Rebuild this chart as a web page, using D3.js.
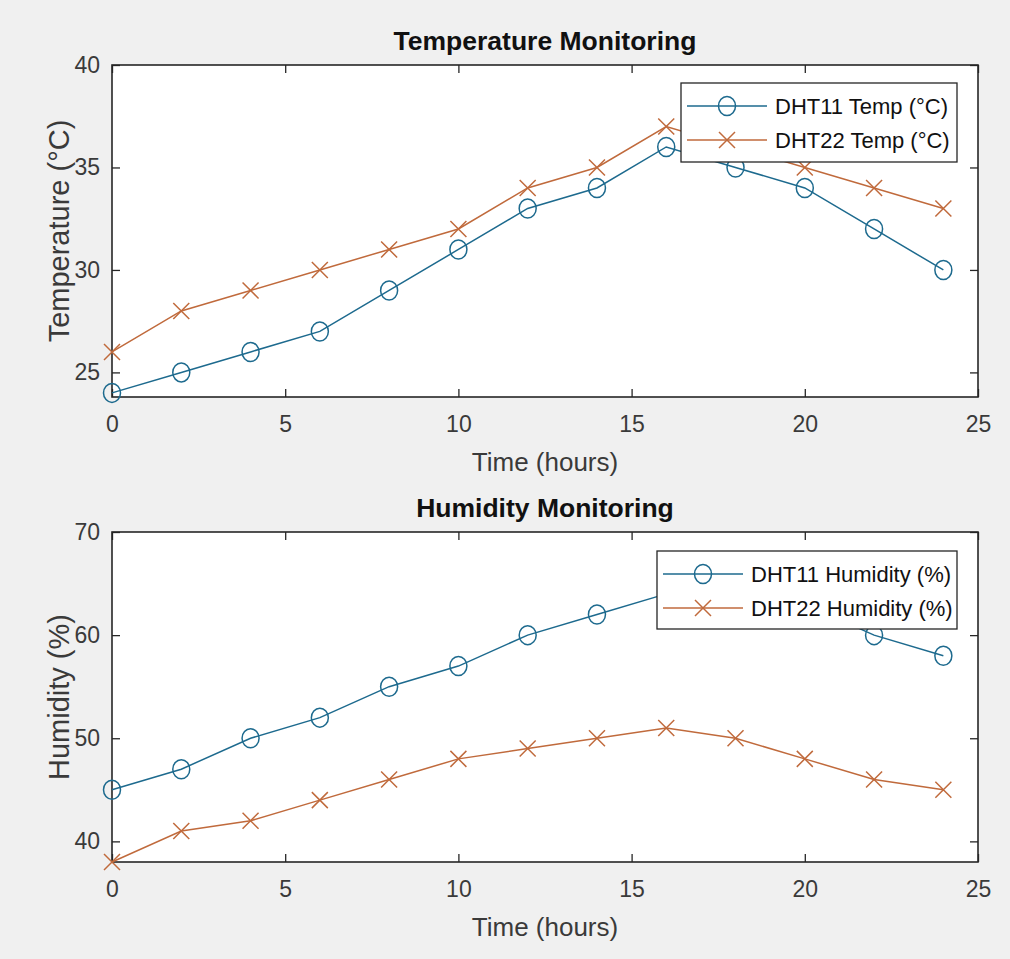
<!DOCTYPE html>
<html>
<head>
<meta charset="utf-8">
<script src="https://cdn.jsdelivr.net/npm/d3@7"></script>
<style>
  body { margin: 0; background: #f0f0f0; }
  svg { display: block; font-family: "Liberation Sans", Arial, sans-serif; }
</style>
</head>
<body>
<div id="chart"></div>
<script>
// Data
const hours = [0, 2, 4, 6, 8, 10, 12, 14, 16, 18, 20, 22, 24];
const dht11Temp = [24, 25, 26, 27, 29, 31, 33, 34, 36, 35, 34, 32, 30];
const dht22Temp = [26, 28, 29, 30, 31, 32, 34, 35, 37, 36, 35, 34, 33];
const dht11Hum = [45, 47, 50, 52, 55, 57, 60, 62, 64, 65, 63, 60, 58];
const dht22Hum = [38, 41, 42, 44, 46, 48, 49, 50, 51, 50, 48, 46, 45];
const xTicks = [0, 5, 10, 15, 20, 25];
const tempTicks = [25, 30, 35, 40];
const humTicks = [40, 50, 60, 70];

const width = 1010;
const height = 959;
const blue = '#1d6a8e';
const orange = '#c06a3c';
const axisColor = '#262626';

const svg = d3.select('#chart')
    .append('svg')
    .attr('width', width)
    .attr('height', height);

svg.append('rect').attr('width', width).attr('height', height).attr('fill', '#f0f0f0');

// one panel: line plot with circle and cross series
function drawPanel(opts) {
    const { top, bottom, left, right, yDomain, yTicks, title, yLabel, series, legend } = opts;

    const x = d3.scaleLinear().domain([0, 25]).range([left, right]);
    const y = d3.scaleLinear().domain(yDomain).range([bottom, top]);

    const g = svg.append('g');

    g.append('rect')
        .attr('x', left).attr('y', top)
        .attr('width', right - left).attr('height', bottom - top)
        .attr('fill', '#fff');

    // axes with inward ticks
    g.append('g')
        .attr('transform', `translate(0,${bottom})`)
        .call(d3.axisBottom(x).tickValues(xTicks).tickSize(-8).tickSizeOuter(0).tickPadding(19));
    g.append('g')
        .attr('transform', `translate(0,${top})`)
        .call(d3.axisTop(x).tickValues(xTicks).tickSize(-8).tickSizeOuter(0).tickFormat(''));
    g.append('g')
        .attr('transform', `translate(${left},0)`)
        .call(d3.axisLeft(y).tickValues(yTicks).tickSize(-8).tickSizeOuter(0).tickPadding(12));
    g.append('g')
        .attr('transform', `translate(${right},0)`)
        .call(d3.axisRight(y).tickValues(yTicks).tickSize(-8).tickSizeOuter(0).tickFormat(''));

    g.selectAll('.domain').remove();
    g.selectAll('.tick line').attr('stroke', axisColor).attr('stroke-width', 1.3);
    g.selectAll('.tick text')
        .attr('fill', '#3a3a3a')
        .style('font-size', '23px');

    // frame
    g.append('rect')
        .attr('x', left).attr('y', top)
        .attr('width', right - left).attr('height', bottom - top)
        .attr('fill', 'none')
        .attr('stroke', axisColor)
        .attr('stroke-width', 1.6);

    // titles and labels
    g.append('text')
        .attr('x', (left + right) / 2)
        .attr('y', top - 15)
        .attr('text-anchor', 'middle')
        .style('font-size', '26.5px')
        .style('font-weight', 'bold')
        .attr('fill', '#111')
        .text(title);

    g.append('text')
        .attr('x', (left + right) / 2)
        .attr('y', bottom + 74)
        .attr('text-anchor', 'middle')
        .style('font-size', '26px')
        .attr('fill', '#3a3a3a')
        .text('Time (hours)');

    g.append('text')
        .attr('transform', `translate(69,${(top + bottom) / 2}) rotate(-90)`)
        .attr('text-anchor', 'middle')
        .style('font-size', '29px')
        .attr('fill', '#3a3a3a')
        .text(yLabel);

    const line = d3.line().x((d, i) => x(hours[i])).y(d => y(d));

    series.forEach(s => {
        g.append('path')
            .datum(s.values)
            .attr('d', line)
            .attr('fill', 'none')
            .attr('stroke', s.color)
            .attr('stroke-width', 1.5);
        drawMarkers(g, s, s.values.map((v, i) => [x(hours[i]), y(v)]));
    });

    // legend
    const lg = g.append('g');
    lg.append('rect')
        .attr('x', legend.x).attr('y', legend.y)
        .attr('width', legend.w).attr('height', legend.h)
        .attr('fill', '#fff')
        .attr('stroke', axisColor)
        .attr('stroke-width', 1.3);
    series.forEach((s, i) => {
        const ry = legend.y + 23 + i * 34;
        lg.append('line')
            .attr('x1', legend.x + 6).attr('x2', legend.x + 86)
            .attr('y1', ry).attr('y2', ry)
            .attr('stroke', s.color).attr('stroke-width', 1.5);
        drawMarkers(lg, s, [[legend.x + 46, ry]]);
        lg.append('text')
            .attr('x', legend.x + 94)
            .attr('y', ry)
            .attr('dy', '0.36em')
            .style('font-size', '22px')
            .attr('fill', '#111')
            .text(s.name);
    });
}

function drawMarkers(g, s, pts) {
    if (s.marker === 'circle') {
        g.selectAll(null)
            .data(pts)
            .join('ellipse')
            .attr('cx', d => d[0]).attr('cy', d => d[1])
            .attr('rx', 8.5).attr('ry', 9.5)
            .attr('fill', 'none')
            .attr('stroke', s.color)
            .attr('stroke-width', 1.5);
    } else {
        const r = 8;
        g.selectAll(null)
            .data(pts)
            .join('path')
            .attr('d', d => `M${d[0] - r},${d[1] - r}L${d[0] + r},${d[1] + r}M${d[0] - r},${d[1] + r}L${d[0] + r},${d[1] - r}`)
            .attr('fill', 'none')
            .attr('stroke', s.color)
            .attr('stroke-width', 1.5);
    }
}

drawPanel({
    top: 65, bottom: 397, left: 112, right: 978,
    yDomain: [23.8, 40], yTicks: tempTicks,
    title: 'Temperature Monitoring',
    yLabel: 'Temperature (°C)',
    series: [
        { name: 'DHT11 Temp (°C)', values: dht11Temp, color: blue, marker: 'circle' },
        { name: 'DHT22 Temp (°C)', values: dht22Temp, color: orange, marker: 'cross' }
    ],
    legend: { x: 681, y: 83, w: 276, h: 79 }
});

drawPanel({
    top: 532, bottom: 862, left: 112, right: 978,
    yDomain: [38, 70], yTicks: humTicks,
    title: 'Humidity Monitoring',
    yLabel: 'Humidity (%)',
    series: [
        { name: 'DHT11 Humidity (%)', values: dht11Hum, color: blue, marker: 'circle' },
        { name: 'DHT22 Humidity (%)', values: dht22Hum, color: orange, marker: 'cross' }
    ],
    legend: { x: 657, y: 551, w: 300, h: 78 }
});
</script>
</body>
</html>
